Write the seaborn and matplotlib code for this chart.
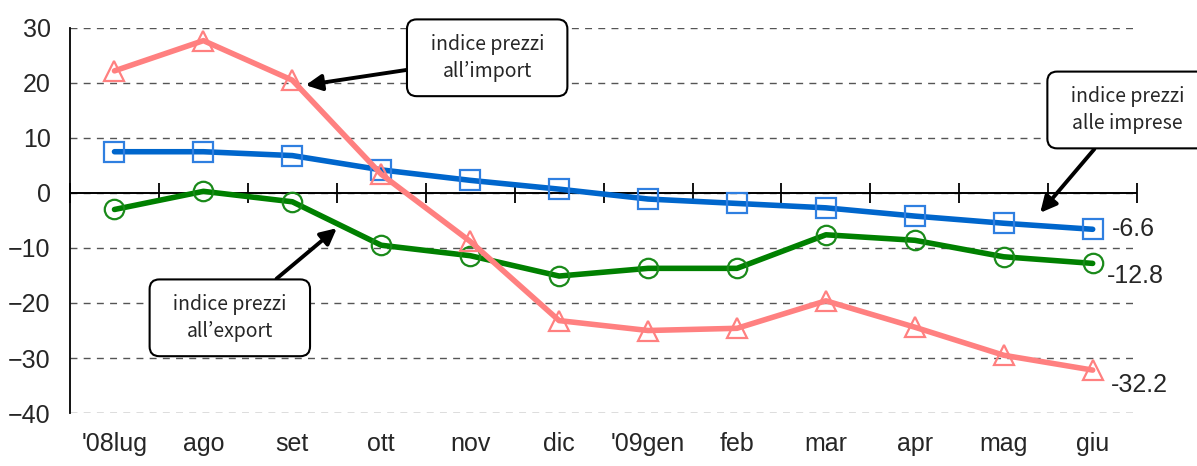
import matplotlib
matplotlib.use("Agg")
import matplotlib.pyplot as plt
import seaborn as sns

months = ["'08lug", "ago", "set", "ott", "nov", "dic", "'09gen", "feb", "mar", "apr", "mag", "giu"]
imprese = [7.5, 7.5, 6.8, 4.2, 2.3, 0.7, -1.1, -1.9, -2.7, -4.2, -5.5, -6.6]
export = [-3.0, 0.3, -1.6, -9.5, -11.4, -15.1, -13.7, -13.7, -7.6, -8.6, -11.6, -12.8]
importp = [22.2, 27.7, 20.5, 3.4, -8.8, -23.2, -25.0, -24.6, -19.6, -24.4, -29.5, -32.2]
yticks = [30, 20, 10, 0, -10, -20, -30, -40]

sns.set_style("white")
plt.rcParams["font.family"] = ["Liberation Sans", "DejaVu Sans"]

fig, ax = plt.subplots(figsize=(11.97, 4.66), dpi=100)
fig.subplots_adjust(left=0.0585, right=0.95, top=0.94, bottom=0.1137)

series = [
    (imprese, "#0066CC", "#2F7FE0", "s", 14),
    (export, "#008000", "#1A8A1A", "o", 14),
    (importp, "#FF8080", "#FF8080", "^", 15),
]
for vals, col, mec, mk, ms in series:
    sns.lineplot(x=months, y=vals, ax=ax, color=col, linewidth=4, marker=mk,
                 markersize=ms, markerfacecolor="none", markeredgecolor=mec,
                 markeredgewidth=1.6, zorder=3)

ax.set_xlim(-0.5, 11.5)
ax.set_ylim(-40, 30)
ax.set_yticks(yticks)
ax.set_axisbelow(True)
ax.yaxis.grid(True, linestyle=(0, (5, 4.5)), color="#555555", linewidth=1.0)
ax.xaxis.grid(False)
for s in ["top", "right", "bottom"]:
    ax.spines[s].set_visible(False)
ax.spines["left"].set_color("black")
ax.spines["left"].set_linewidth(1.3)
ax.tick_params(axis="y", labelsize=18, direction="in", length=4, pad=14, color="black")
ax.tick_params(axis="x", labelsize=18, length=0, pad=14)
ax.set_xlabel("")
ax.set_ylabel("")

# zero line with ticks between categories
ax.axhline(0, color="black", linewidth=1.4, zorder=2)
sec = ax.secondary_xaxis(4 / 7)
sec.set_xticks([i + 0.5 for i in range(-1, 12)])
sec.tick_params(direction="inout", length=14, width=1.3, color="black",
                labelbottom=False, labeltop=False)
for sp in sec.spines.values():
    sp.set_visible(False)

# end labels
ax.annotate("-6.6", xy=(11, imprese[-1]), xytext=(14, 0), textcoords="offset points",
            fontsize=18, va="center", ha="left")
ax.annotate("-12.8", xy=(11, export[-1]), xytext=(10, -9), textcoords="offset points",
            fontsize=18, va="center", ha="left")
ax.annotate("-32.2", xy=(11, importp[-1]), xytext=(13, -11), textcoords="offset points",
            fontsize=18, va="center", ha="left")

box = dict(boxstyle="round,pad=0.75,rounding_size=0.5", fc="white", ec="black", lw=1.5)
arrow = dict(arrowstyle="-|>", color="black", lw=2.8, mutation_scale=24, shrinkA=0, shrinkB=0)
bfont = ["Noto Sans CJK JP", "DejaVu Sans"]
ax.annotate("  indice prezzi  \nall\u2019import", xy=(2.15, 19.6), xytext=(0.407, 0.876),
            textcoords="figure fraction", ha="center", va="center", fontsize=14,
            family=bfont, linespacing=1.35, bbox=box, arrowprops=arrow, zorder=5)
ax.annotate("  indice prezzi  \nalle imprese", xy=(10.41, -3.6), xytext=(0.942, 0.764),
            textcoords="figure fraction", ha="center", va="center", fontsize=14,
            family=bfont, linespacing=1.35, bbox=box, arrowprops=arrow, zorder=5,
            annotation_clip=False)
ax.annotate("  indice prezzi  \nall\u2019export", xy=(2.5, -6.4), xytext=(0.192, 0.318),
            textcoords="figure fraction", ha="center", va="center", fontsize=14,
            family=bfont, linespacing=1.35, bbox=box, arrowprops=arrow, zorder=5)

fig.savefig("out.png", dpi=100)
